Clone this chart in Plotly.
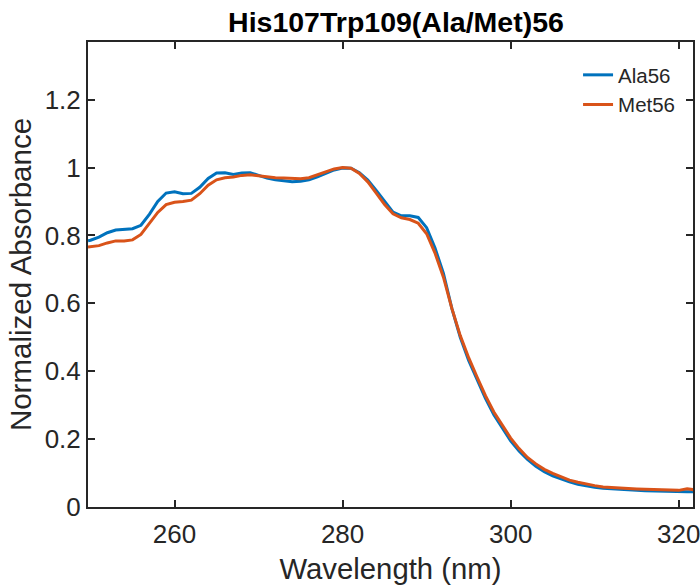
import plotly.graph_objects as go

wavelength = [249.7] + list(range(250, 323))
ala56 = [0.784, 0.786, 0.795, 0.808, 0.816, 0.818, 0.820, 0.830, 0.862, 0.900, 0.925,
         0.929, 0.923, 0.924, 0.942, 0.968, 0.984, 0.985, 0.980, 0.984, 0.985,
         0.977, 0.969, 0.964, 0.961, 0.958, 0.960, 0.964, 0.973, 0.983, 0.993,
         0.999, 0.998, 0.985, 0.963, 0.933, 0.900, 0.869, 0.858, 0.858, 0.853,
         0.823, 0.763, 0.688, 0.585, 0.500, 0.432, 0.375, 0.320, 0.272, 0.232,
         0.195, 0.165, 0.140, 0.120, 0.104, 0.092, 0.082, 0.074, 0.067, 0.062,
         0.058, 0.055, 0.053, 0.051, 0.050, 0.049, 0.048, 0.047, 0.047, 0.046,
         0.046, 0.045, 0.045]
met56 = [0.766, 0.767, 0.770, 0.778, 0.784, 0.784, 0.787, 0.803, 0.835, 0.868, 0.891,
         0.898, 0.900, 0.904, 0.923, 0.948, 0.964, 0.970, 0.972, 0.977, 0.979,
         0.976, 0.972, 0.970, 0.969, 0.967, 0.967, 0.970, 0.978, 0.988, 0.996,
         1.000, 0.998, 0.983, 0.958, 0.925, 0.891, 0.864, 0.852, 0.847, 0.836,
         0.805, 0.748, 0.677, 0.585, 0.505, 0.440, 0.383, 0.328, 0.280, 0.240,
         0.203, 0.172, 0.146, 0.127, 0.111, 0.099, 0.088, 0.079, 0.073, 0.067,
         0.063, 0.059, 0.057, 0.055, 0.054, 0.053, 0.052, 0.051, 0.051, 0.050,
         0.049, 0.054, 0.050]

x_ticks = [260, 280, 300, 320]
y_ticks = [0, 0.2, 0.4, 0.6, 0.8, 1, 1.2]
y_tick_labels = ["0", "0.2", "0.4", "0.6", "0.8", "1", "1.2"]

font_family = "Liberation Sans, Arial, sans-serif"
ink = "#262626"

fig = go.Figure()
fig.add_trace(go.Scatter(x=wavelength, y=ala56, mode="lines", name="Ala56",
                         line=dict(color="#0072BD", width=3)))
fig.add_trace(go.Scatter(x=wavelength, y=met56, mode="lines", name="Met56",
                         line=dict(color="#D95319", width=3)))

axis_common = dict(showline=True, linecolor=ink, linewidth=2, mirror="allticks",
                   ticks="inside", ticklen=7, tickwidth=2, tickcolor=ink,
                   showgrid=False, zeroline=False, automargin=False,
                   ticklabeloverflow="allow",
                   tickfont=dict(family=font_family, size=26, color=ink))

fig.update_xaxes(range=[249.7, 321.7], tickvals=x_ticks, ticklabelstandoff=3,
                 title=dict(text="Wavelength (nm)", font=dict(family=font_family, size=29.3, color=ink),
                            standoff=10),
                 **axis_common)
fig.update_yaxes(range=[0, 1.37], tickvals=y_ticks, ticktext=y_tick_labels,
                 title=dict(text="Normalized Absorbance", font=dict(family=font_family, size=29.5, color=ink),
                            standoff=4),
                 **axis_common)

fig.update_layout(
    width=700, height=586,
    margin=dict(l=88, r=7, t=42, b=79),
    paper_bgcolor="white", plot_bgcolor="white",
    title=dict(text="<b>His107Trp109(Ala/Met)56</b>", x=0.5657, xanchor="center",
               y=0.9625, yanchor="middle",
               font=dict(family=font_family, size=28.5, color="black")),
    legend=dict(x=0.81, xanchor="left", y=0.972, yanchor="top",
                bgcolor="rgba(0,0,0,0)", borderwidth=0,
                font=dict(family=font_family, size=20.5, color=ink),
                tracegroupgap=0),
    showlegend=True,
)

fig.write_html("out.html", config={"displayModeBar": False},
               post_script="document.body.style.margin='0';document.body.style.overflow='hidden';")
